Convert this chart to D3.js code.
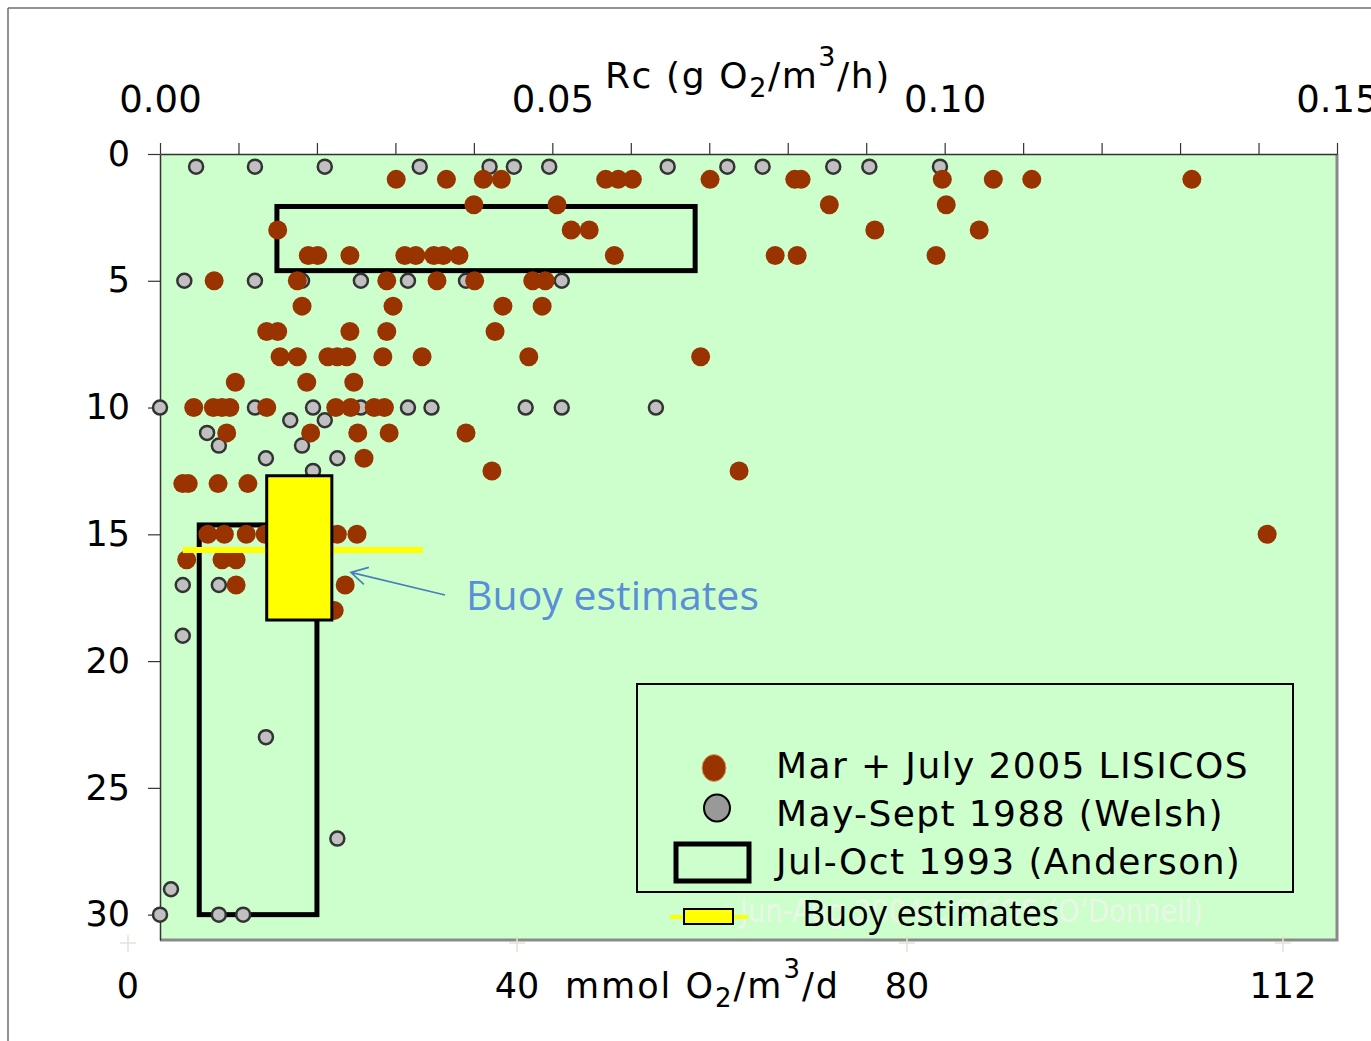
<!DOCTYPE html>
<html>
<head>
<meta charset="utf-8">
<script src="https://cdn.jsdelivr.net/npm/d3@7"></script>
<style>
  body { margin: 0; background: #fff; }
  svg { display: block; }
</style>
</head>
<body>
<svg id="chart"></svg>
<script>
// Rc in g O2/m3/h, depth in m
const lisicos = [
  [0.0301, 1], [0.0365, 1], [0.0412, 1], [0.0435, 1], [0.0568, 1], [0.0584, 1], [0.0602, 1],
  [0.0701, 1], [0.0809, 1], [0.0817, 1], [0.0997, 1], [0.1062, 1], [0.1111, 1], [0.1315, 1],
  [0.0400, 2], [0.0506, 2], [0.0853, 2], [0.1002, 2],
  [0.0150, 3], [0.0524, 3], [0.0547, 3], [0.0911, 3], [0.1044, 3],
  [0.0189, 4], [0.0201, 4], [0.0242, 4], [0.0312, 4], [0.0326, 4], [0.0349, 4], [0.0361, 4],
  [0.0381, 4], [0.0579, 4], [0.0784, 4], [0.0812, 4], [0.0989, 4],
  [0.0069, 5], [0.0175, 5], [0.0289, 5], [0.0353, 5], [0.0401, 5], [0.0475, 5], [0.0491, 5],
  [0.0181, 6], [0.0297, 6], [0.0437, 6], [0.0487, 6],
  [0.0136, 7], [0.0150, 7], [0.0242, 7], [0.0289, 7], [0.0427, 7],
  [0.0153, 8], [0.0175, 8], [0.0214, 8], [0.0226, 8], [0.0238, 8], [0.0284, 8], [0.0334, 8],
  [0.0470, 8], [0.0689, 8],
  [0.0096, 9], [0.0187, 9], [0.0247, 9],
  [0.0043, 10], [0.0068, 10], [0.0079, 10], [0.0089, 10], [0.0136, 10], [0.0224, 10],
  [0.0243, 10], [0.0273, 10], [0.0286, 10],
  [0.0085, 11], [0.0192, 11], [0.0252, 11], [0.0292, 11], [0.0390, 11],
  [0.0260, 12], [0.0423, 12.5], [0.0738, 12.5],
  [0.0029, 13], [0.0036, 13], [0.0074, 13], [0.0112, 13],
  [0.0061, 15], [0.0082, 15], [0.0110, 15], [0.0134, 15], [0.0226, 15], [0.0251, 15], [0.1411, 15],
  [0.0034, 16], [0.0079, 16], [0.0097, 16],
  [0.0097, 17], [0.0236, 17], [0.0222, 18]
];

const welsh = [
  [0.0046, 0.5], [0.0121, 0.5], [0.0210, 0.5], [0.0331, 0.5], [0.0420, 0.5], [0.0451, 0.5],
  [0.0496, 0.5], [0.0647, 0.5], [0.0723, 0.5], [0.0768, 0.5], [0.0858, 0.5], [0.0904, 0.5], [0.0994, 0.5],
  [0.0031, 5], [0.0121, 5], [0.0181, 5], [0.0256, 5], [0.0316, 5], [0.0390, 5], [0.0512, 5],
  [0.0000, 10], [0.0121, 10], [0.0195, 10], [0.0256, 10], [0.0316, 10], [0.0346, 10],
  [0.0466, 10], [0.0512, 10], [0.0632, 10],
  [0.0166, 10.5], [0.0210, 10.5], [0.0060, 11], [0.0075, 11.5], [0.0181, 11.5],
  [0.0135, 12], [0.0226, 12], [0.0195, 12.5],
  [0.0029, 17], [0.0075, 17], [0.0029, 19], [0.0135, 23], [0.0226, 27], [0.0014, 29],
  [0.0000, 30], [0.0075, 30], [0.0106, 30]
];

// Anderson 1993 ranges: [rcMin, rcMax, depthTop, depthBottom]
const anderson = [
  [0.0149, 0.0682, 2.07, 4.6],
  [0.0050, 0.0200, 14.63, 30]
];

// buoy estimates: range box and mean line
const buoyBox = [0.0136, 0.0219, 12.69, 18.38];
const buoyLine = [0.0029, 0.0335, 15.62];

const topTicks = d3.range(0, 0.1501, 0.01);
const topLabels = [0, 0.05, 0.10, 0.15];
const depthTicks = [0, 5, 10, 15, 20, 25, 30];
const mmolTicks = [0, 40, 80, 112];

const legendLabels = ["Mar + July 2005 LISICOS", "May-Sept 1988 (Welsh)", "Jul-Oct 1993 (Anderson)"];
const buoyLabel = "Buoy estimates";
const hiddenLabel = "Jun-Aug 2004 LISICOS (O\u2019Donnell)";

const W = 1371, H = 1041;
const svg = d3.select("#chart").attr("width", W).attr("height", H);

const x = d3.scaleLinear().domain([0, 0.15]).range([160, 1337]);
const y = d3.scaleLinear().domain([0, 31]).range([154, 940]);
// bottom unit axis was pasted by hand, not linear with the top one
const xm = d3.scaleLinear().domain([0, 40, 80, 112]).range([128, 517, 907, 1283]);

const FONT = "'DejaVu Sans', Verdana, sans-serif";
const FONT2 = "'Open Sans', Calibri, sans-serif";

// slide frame
svg.append("line").attr("x1", 8).attr("y1", 8).attr("x2", W).attr("y2", 8)
  .attr("stroke", "#6e6e6e").attr("stroke-width", 1.5);
svg.append("line").attr("x1", 8).attr("y1", 8).attr("x2", 8).attr("y2", H)
  .attr("stroke", "#6e6e6e").attr("stroke-width", 1.5);

// plot area
svg.append("rect")
  .attr("x", x(0)).attr("y", y(0))
  .attr("width", x(0.15) - x(0)).attr("height", y(31) - y(0))
  .attr("fill", "#ccffcc");
svg.append("path")
  .attr("d", `M${x(0)},${y(31)}H${x(0.15)}V${y(0)}`)
  .attr("fill", "none").attr("stroke", "#8a8a8a").attr("stroke-width", 3);

// faint bottom crosses
const cross = svg.append("g");
mmolTicks.forEach(v => {
  cross.append("path")
    .attr("d", `M${xm(v) - 8},943H${xm(v) + 8}M${xm(v)},935V952`)
    .attr("stroke", "#e4e4d4").attr("stroke-width", 1.5);
});

// axes
const topAxis = svg.append("g")
  .attr("transform", `translate(0,${y(0)})`)
  .call(d3.axisTop(x).tickValues(topTicks).tickSize(11).tickSizeOuter(0).tickPadding(31)
    .tickFormat(d => topLabels.some(t => Math.abs(t - d) < 1e-9) ? d3.format(".2f")(d) : ""));
const leftAxis = svg.append("g")
  .attr("transform", `translate(${x(0)},0)`)
  .call(d3.axisLeft(y).tickValues(depthTicks).tickSize(12).tickSizeOuter(0).tickPadding(18));

[topAxis, leftAxis].forEach(g => {
  g.select(".domain").attr("stroke", "#333").attr("stroke-width", 1.5);
  g.selectAll(".tick line").attr("stroke", "#333").attr("stroke-width", 1.2);
  g.selectAll("text").attr("fill", "#000").style("font-family", FONT);
});
topAxis.selectAll("text").style("font-size", "37px");
leftAxis.selectAll("text").style("font-size", "35px");

// axis titles
const topTitle = svg.append("text")
  .attr("x", 605).attr("y", 88)
  .style("font-family", FONT).style("font-size", "36px").style("letter-spacing", "1.6px")
  .attr("fill", "#000");
topTitle.append("tspan").text("Rc (g O");
topTitle.append("tspan").attr("dy", 9).style("font-size", "27px").text("2");
topTitle.append("tspan").attr("dy", -9).text("/m");
topTitle.append("tspan").attr("dy", -22).style("font-size", "27px").text("3");
topTitle.append("tspan").attr("dy", 22).text("/h)");

svg.append("g").selectAll("text")
  .data(mmolTicks).enter().append("text")
  .attr("x", d => xm(d)).attr("y", 998)
  .attr("text-anchor", "middle")
  .style("font-family", FONT).style("font-size", "35px")
  .text(d => d);

const botTitle = svg.append("text")
  .attr("x", 565).attr("y", 998)
  .style("font-family", FONT).style("font-size", "35px").style("letter-spacing", "2px")
  .attr("fill", "#000");
botTitle.append("tspan").text("mmol O");
botTitle.append("tspan").attr("dy", 9).style("font-size", "26px").text("2");
botTitle.append("tspan").attr("dy", -9).text("/m");
botTitle.append("tspan").attr("dy", -20).style("font-size", "26px").text("3");
botTitle.append("tspan").attr("dy", 20).text("/d");

// Anderson ranges
svg.append("g").selectAll("rect")
  .data(anderson).enter().append("rect")
  .attr("x", d => x(d[0])).attr("y", d => y(d[2]))
  .attr("width", d => x(d[1]) - x(d[0])).attr("height", d => y(d[3]) - y(d[2]))
  .attr("fill", "none").attr("stroke", "#000").attr("stroke-width", 5);

// Welsh points
svg.append("g").selectAll("circle")
  .data(welsh).enter().append("circle")
  .attr("cx", d => x(d[0])).attr("cy", d => y(d[1])).attr("r", 7)
  .attr("fill", "#c0c0c0").attr("stroke", "#333").attr("stroke-width", 2.5);

// LISICOS points
svg.append("g").selectAll("circle")
  .data(lisicos).enter().append("circle")
  .attr("cx", d => x(d[0])).attr("cy", d => y(d[1])).attr("r", 9.5)
  .attr("fill", "#993300");

// buoy estimates
svg.append("line")
  .attr("x1", x(buoyLine[0])).attr("x2", x(buoyLine[1]))
  .attr("y1", y(buoyLine[2])).attr("y2", y(buoyLine[2]))
  .attr("stroke", "#ffff00").attr("stroke-width", 6);
svg.append("rect")
  .attr("x", x(buoyBox[0])).attr("y", y(buoyBox[2]))
  .attr("width", x(buoyBox[1]) - x(buoyBox[0])).attr("height", y(buoyBox[3]) - y(buoyBox[2]))
  .attr("fill", "#ffff00").attr("stroke", "#000").attr("stroke-width", 3);

// annotation arrow
const tip = [x(buoyBox[1]) + 19, y(16.5)];
svg.append("path")
  .attr("d", `M445,595L${tip[0]},${tip[1]}M${tip[0] + 18},${tip[1] - 5}L${tip[0]},${tip[1]}L${tip[0] + 13},${tip[1] + 12}`)
  .attr("fill", "none").attr("stroke", "#4a7ebb").attr("stroke-width", 1.6);
svg.append("text")
  .attr("x", 466).attr("y", 610)
  .style("font-family", FONT2).style("font-size", "41px")
  .attr("fill", "#5a8ed6")
  .text(buoyLabel);

// legend
const lg = svg.append("g");
lg.append("rect")
  .attr("x", 637).attr("y", 684).attr("width", 656).attr("height", 208)
  .attr("fill", "#ccffcc").attr("stroke", "#000").attr("stroke-width", 2);
lg.append("ellipse").attr("cx", 714).attr("cy", 768).attr("rx", 12).attr("ry", 13.5)
  .attr("fill", "#993300").attr("stroke", "#d9a066").attr("stroke-width", 1);
lg.append("ellipse").attr("cx", 717).attr("cy", 808).attr("rx", 13).attr("ry", 13.5)
  .attr("fill", "#999").attr("stroke", "#000").attr("stroke-width", 2);
lg.append("rect").attr("x", 676).attr("y", 844).attr("width", 73).attr("height", 37)
  .attr("fill", "none").attr("stroke", "#000").attr("stroke-width", 5);
lg.selectAll("text.item")
  .data(legendLabels).enter().append("text")
  .attr("class", "item")
  .attr("x", 776).attr("y", (d, i) => 778 + i * 48)
  .style("font-family", FONT).style("font-size", "36px").style("letter-spacing", "1.4px")
  .attr("fill", "#000")
  .text(d => d);

// faded series label left over from the original slide
lg.append("text")
  .attr("x", 740).attr("y", 922)
  .attr("textLength", 463).attr("lengthAdjust", "spacingAndGlyphs")
  .style("font-family", FONT).style("font-size", "32px")
  .attr("fill", "#eaf6e6")
  .text(hiddenLabel);
lg.append("line").attr("x1", 670).attr("x2", 748).attr("y1", 917).attr("y2", 917)
  .attr("stroke", "#ffff00").attr("stroke-width", 4);
lg.append("rect").attr("x", 684).attr("y", 909).attr("width", 49).attr("height", 15)
  .attr("fill", "#ffff00").attr("stroke", "#000").attr("stroke-width", 2);
lg.append("text")
  .attr("x", 802).attr("y", 926)
  .style("font-family", FONT2).style("font-size", "36px")
  .attr("fill", "#000")
  .text(buoyLabel);
</script>
</body>
</html>
